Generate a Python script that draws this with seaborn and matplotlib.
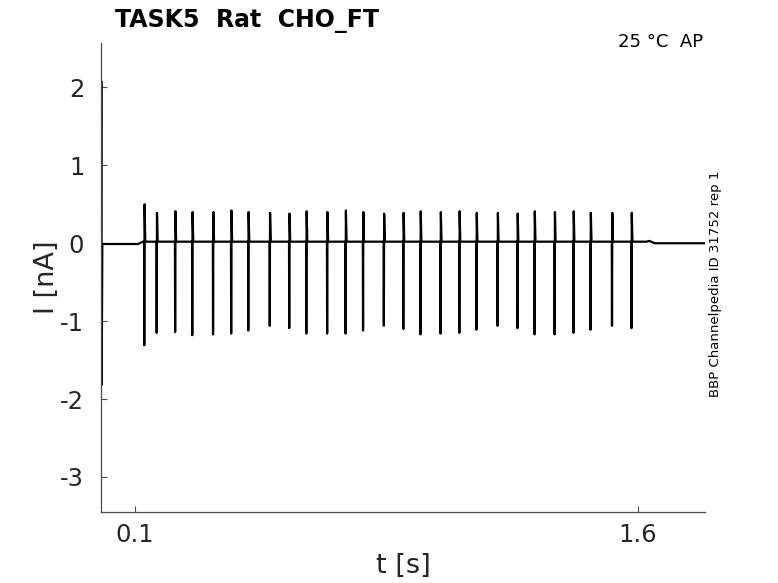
import numpy as np
import pandas as pd
import seaborn as sns
import matplotlib.pyplot as plt

# spike times [s], peak / trough currents [nA]
spike_t = [0.129, 0.166, 0.221, 0.272, 0.334, 0.388, 0.439, 0.503, 0.561,
           0.612, 0.674, 0.729, 0.781, 0.843, 0.901, 0.952, 1.012, 1.068,
           1.119, 1.182, 1.241, 1.292, 1.352, 1.408, 1.459, 1.523, 1.581]
spike_peak = [0.50, 0.39, 0.41, 0.40, 0.40, 0.42, 0.40, 0.39, 0.38, 0.41,
              0.40, 0.42, 0.40, 0.38, 0.39, 0.41, 0.40, 0.41, 0.39, 0.39,
              0.38, 0.41, 0.40, 0.41, 0.39, 0.39, 0.39]
spike_trough = [-1.31, -1.15, -1.14, -1.18, -1.17, -1.16, -1.12, -1.06, -1.09,
                -1.16, -1.16, -1.16, -1.12, -1.06, -1.10, -1.17, -1.16, -1.15,
                -1.11, -1.06, -1.09, -1.17, -1.17, -1.15, -1.11, -1.06, -1.09]

# capacitive transient at t=0, then resting baseline
pre_t = [0.0, 0.001, 0.002, 0.004, 0.11]
pre_i = [-0.01, 2.08, -1.82, -0.01, -0.01]
# holding current during the stimulus
stim_t = 0.125
stim_base = 0.02
# after the stimulus
post_t = [1.626, 1.634, 1.65, 1.80]
post_i = [0.02, 0.03, 0.0, 0.0]

# build the trace vertices
t = list(pre_t) + [stim_t]
i = list(pre_i) + [stim_base]
for ts, pk, tr in zip(spike_t, spike_peak, spike_trough):
    t += [ts - 0.0006, ts, ts + 0.0009, ts + 0.003]
    i += [stim_base, tr, pk, stim_base]
t += post_t
i += post_i
trace = pd.DataFrame({"t": t, "I": i})

sns.set_style("ticks")
plt.rcParams["axes.unicode_minus"] = False
plt.rcParams["font.family"] = ["DejaVu Sans"]

fig = plt.figure(figsize=(7.78, 5.83), dpi=100)
ax = fig.add_axes([0.1298, 0.1218, 0.7763, 0.8044])

sns.lineplot(data=trace, x="t", y="I", sort=False, estimator=None,
             color="black", linewidth=1.6, ax=ax)

ax.set_xlim(0, 1.8)
ax.set_ylim(-3.45, 2.57)
ax.set_xticks([0.1, 1.6])
ax.set_xticklabels(["0.1", "1.6"])
ax.set_yticks([-3, -2, -1, 0, 1, 2])
ax.set_yticklabels(["-3", "-2", "-1", "0", "1", "2"])

sns.despine(ax=ax)
for s in ["left", "bottom"]:
    ax.spines[s].set_color("#4a4a4a")
    ax.spines[s].set_linewidth(0.9)
ax.tick_params(axis="both", direction="in", length=4, width=0.8,
               colors="#4a4a4a", labelcolor="#262626", labelsize=17.5)
ax.tick_params(axis="x", pad=8)
ax.tick_params(axis="y", pad=12)

ax.set_xlabel("t [s]", fontsize=19.5, color="#262626")
ax.set_ylabel("I [nA]", fontsize=19.5, color="#262626")
ax.xaxis.set_label_coords(0.5, -0.087)
ax.yaxis.set_label_coords(-0.068, 0.5)

fig.text(115 / 778, 1 - 27 / 583, "TASK5  Rat  CHO_FT", fontsize=17,
         fontweight="bold", ha="left", va="baseline", color="black")
fig.text(703 / 778, 1 - 47 / 583, "25 °C  AP", fontsize=13,
         ha="right", va="baseline", color="black")
fig.text(716 / 778, 1 - 284 / 583, "BBP Channelpedia ID 31752 rep 1",
         fontsize=9.5, rotation=90, ha="center", va="center", color="black")

fig.savefig("out.png", dpi=100)
